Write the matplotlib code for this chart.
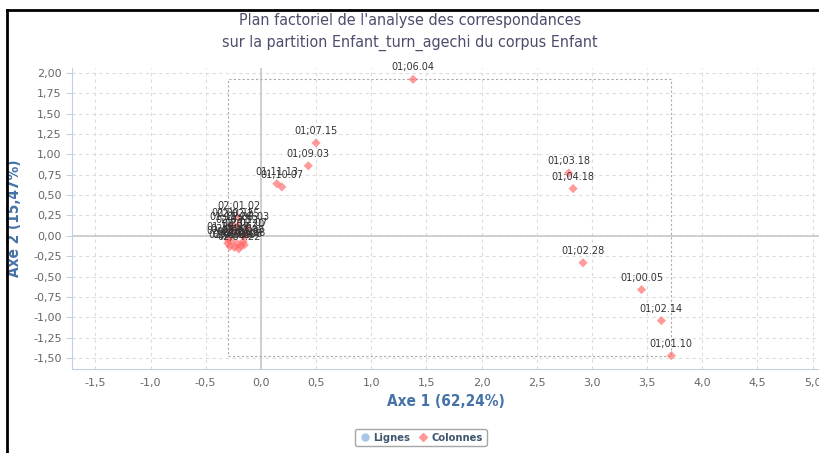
import matplotlib.pyplot as plt
from matplotlib.lines import Line2D
from matplotlib.ticker import FuncFormatter, MultipleLocator

plt.rcParams['font.family'] = ['DejaVu Sans']

TITLE = "Plan factoriel de l'analyse des correspondances\nsur la partition Enfant_turn_agechi du corpus Enfant"
X_LABEL = "Axe 1 (62,24%)"
Y_LABEL = "Axe 2 (15,47%)"

# Colonnes: isolated points
col_labels = ["01;06.04", "01;07.15", "01;09.03", "01;11.13", "01;10.07",
              "01;03.18", "01;04.18", "01;02.28", "01;00.05", "01;02.14", "01;01.10"]
col_x = [1.38, 0.50, 0.43, 0.145, 0.19, 2.79, 2.83, 2.92, 3.45, 3.63, 3.72]
col_y = [1.92, 1.14, 0.86, 0.64, 0.60, 0.77, 0.58, -0.33, -0.66, -1.04, -1.47]

# Colonnes: dense cluster near the origin
clu_labels = ["02;01.02", "02;00.15", "02;02.25", "01;11.26", "02;00.03",
              "02;03.12", "02;01.20", "01;10.27", "02;02.07", "02;04.01",
              "02;00.28", "02;05.11", "02;01.08", "02;03.06", "02;02.18",
              "02;06.09", "02;04.22", "02;00.08"]
clu_x = [-0.20, -0.25, -0.21, -0.27, -0.12, -0.22, -0.16, -0.30, -0.13,
         -0.26, -0.21, -0.30, -0.18, -0.24, -0.15, -0.28, -0.20, -0.16]
clu_y = [0.22, 0.13, 0.12, 0.08, 0.09, 0.05, 0.00, -0.04, 0.01,
         -0.06, -0.10, -0.09, -0.12, -0.14, -0.11, -0.13, -0.16, -0.07]

X_MIN, X_MAX = -1.71, 5.06
Y_MIN, Y_MAX = -1.63, 2.06

fig = plt.figure(figsize=(8.2, 4.53), dpi=100)
ax = fig.add_axes([0.088, 0.186, 0.911, 0.664])

all_x = col_x + clu_x
all_y = col_y + clu_y
all_labels = col_labels + clu_labels

ax.set_xlim(X_MIN, X_MAX)
ax.set_ylim(Y_MIN, Y_MAX)
ax.xaxis.set_major_locator(MultipleLocator(0.5))
ax.yaxis.set_major_locator(MultipleLocator(0.25))
ax.xaxis.set_major_formatter(FuncFormatter(lambda v, p: f"{v:.1f}".replace(".", ",")))
ax.yaxis.set_major_formatter(FuncFormatter(lambda v, p: f"{v:.2f}".replace(".", ",")))
ax.grid(True, linestyle=(0, (3, 3)), color="#dcdcdc", linewidth=0.8)
ax.set_axisbelow(True)
ax.axhline(0, color="#c8c8c8", linewidth=1.2, zorder=1)
ax.axvline(0, color="#c8c8c8", linewidth=1.2, zorder=1)

for side in ["top", "right"]:
    ax.spines[side].set_visible(False)
for side in ["left", "bottom"]:
    ax.spines[side].set_color("#c0d0e0")
ax.tick_params(colors="#c0d0e0", labelcolor="#666666", labelsize=8, length=4)
ax.tick_params(axis="x", length=0, pad=7)

# bounding box of the points, dotted
bx0, bx1 = min(all_x), max(all_x)
by0, by1 = min(all_y), max(all_y)
ax.plot([bx0, bx1, bx1, bx0, bx0], [by0, by0, by1, by1, by0],
        linestyle=(0, (2, 2)), color="#aaaaaa", linewidth=0.8, zorder=2)

ax.scatter(all_x, all_y, marker="D", s=22, color="#ff6666", alpha=0.65,
           edgecolors="none", zorder=4)
for lx, ly, lab in zip(all_x, all_y, all_labels):
    ax.annotate(lab, (lx, ly), xytext=(0, 5), textcoords="offset points",
                ha="center", va="bottom", fontsize=7, color="#333333", zorder=5)

ax.set_xlabel(X_LABEL, color="#4572a7", fontsize=11, fontweight="bold",
              fontstretch="condensed", labelpad=4)
ax.set_ylabel(Y_LABEL, color="#4572a7", fontsize=11, fontweight="bold",
              fontstretch="condensed", labelpad=8)
fig.suptitle(TITLE, color="#4d4d6d", fontsize=11.5, fontstretch="condensed",
             y=0.972, linespacing=1.6)

handles = [
    Line2D([], [], linestyle="none", marker="o", markersize=5, color="#aac4ea", label="Lignes"),
    Line2D([], [], linestyle="none", marker="D", markersize=4.5, color="#ff9999", label="Colonnes"),
]
leg = fig.legend(handles=handles, loc="center", bbox_to_anchor=(0.513, 0.034), ncol=2,
                 frameon=True, handletextpad=0.1, columnspacing=0.6,
                 borderpad=0.35, handlelength=1.2, fancybox=True,
                 prop={"weight": "bold", "size": 8, "stretch": "condensed"})
leg.get_frame().set_edgecolor("#909090")
for t in leg.get_texts():
    t.set_color("#3e576f")

# outer black frame (left and top)
fig.add_artist(Line2D([0.009, 0.009], [0.0, 0.979], transform=fig.transFigure, color="black", linewidth=2))
fig.add_artist(Line2D([0.009, 1.0], [0.979, 0.979], transform=fig.transFigure, color="black", linewidth=2))

fig.savefig("out.png", dpi=100)
